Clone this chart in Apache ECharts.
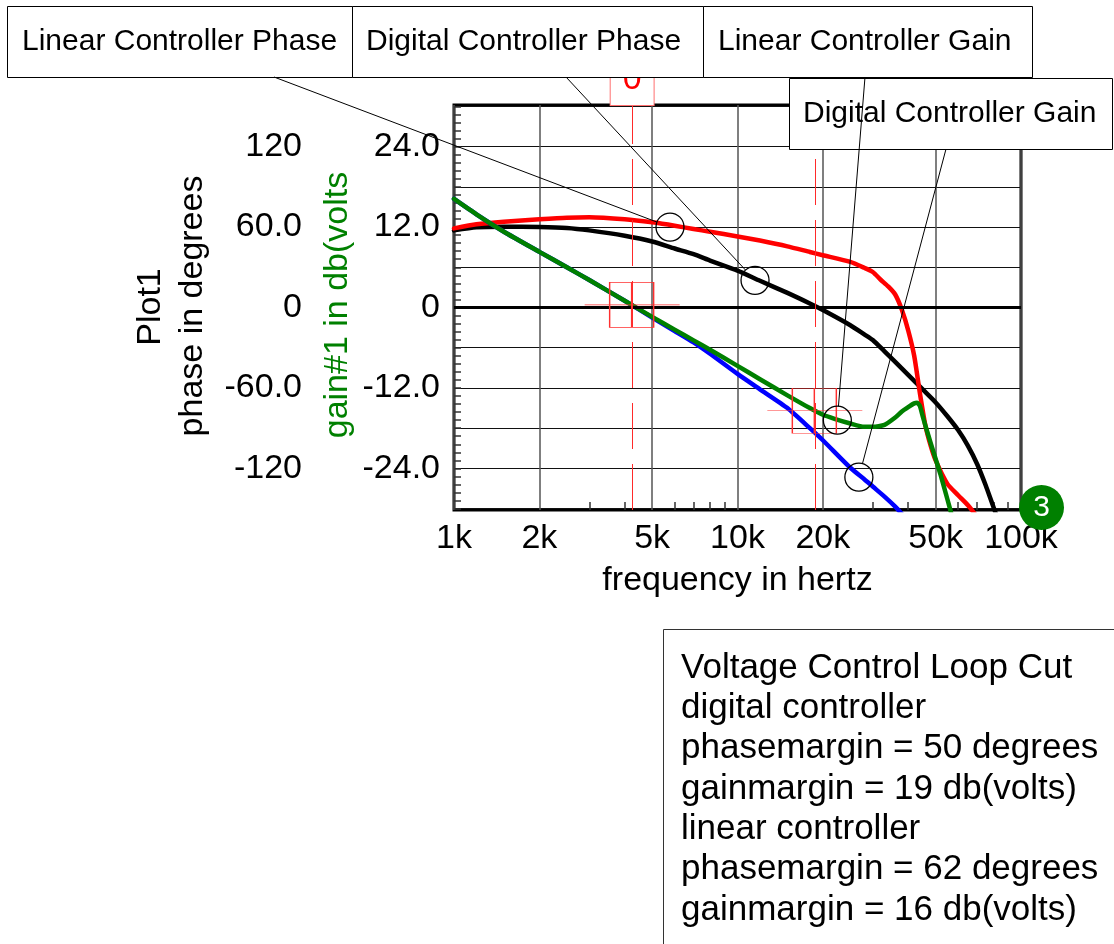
<!DOCTYPE html>
<html><head><meta charset="utf-8">
<script src="https://cdn.jsdelivr.net/npm/echarts@6/dist/echarts.min.js"></script>
<style>html,body{margin:0;padding:0;background:#fff}#c{width:1114px;height:944px}</style>
</head><body><div id="c"></div>
<script>
const FONT = '"Liberation Sans", Arial, Helvetica, sans-serif';

// ---- axis ticks / labels ----
const xTickLabels = [1000, 2000, 5000, 10000, 20000, 50000, 100000];
const xMinorTicks = [3000, 4000, 6000, 7000, 8000, 9000, 30000, 40000, 60000, 70000, 80000, 90000];
const gainTickLabels = [-24, -12, 0, 12, 24];
const gainGridValues = [-30, -24, -18, -12, -6, 0, 6, 12, 18, 24, 30];
const phaseTickLabels = [-120, -60, 0, 60, 120];

// ---- series data (frequency in Hz) ----
const linPhaseFreq = [1000,1200,1500,2000,2500,3000,4000,5000,6000,7000,8000,10000,12000,15000,18000,20000,25000,28000,30000,32000,34000,36000,38000,40000,42000,44000,46000,48000,50000,55000,60000,65000,70000];
const linPhaseDeg  = [59,62,64,65.8,67,67.3,65.8,63.5,61,58.5,56.5,53,49.9,45.6,41.4,39,34,29.6,26.5,20.7,15.7,9.7,-1.7,-17,-36,-64,-88,-103,-114,-131.5,-140,-147.5,-156];

const digPhaseFreq = [1000,1200,1500,2000,2500,3000,4000,5000,6000,7000,8000,10000,12000,15000,18000,20000,25000,28000,30000,33000,36000,40000,45000,50000,55000,60000,65000,70000,75000,80000,85000];
const digPhaseDeg  = [57.5,59.8,60.2,60,59.3,57.5,53.5,49.2,44,39.8,35,27.5,19.9,10.9,3,-1.9,-13.2,-20,-24.2,-32.7,-40.6,-50.3,-61.1,-70.8,-81.1,-91.4,-103.2,-116.7,-132.4,-149,-164];

const linGainFreq = [1000,1200,1500,2000,2500,3000,4000,5000,6000,7000,8000,10000,12000,15000,18000,20000,22000,25000,28000,30000,33000,36000,38000,40000,42000,43000,44000,45000,46000,48000,50000,52000,55000,57000];
const linGainDb   = [16.2,13.9,11.3,8.3,6.0,4.1,1.0,-1.4,-3.3,-4.9,-6.3,-8.7,-10.7,-13.1,-15.0,-16.0,-16.6,-17.3,-17.8,-17.8,-17.5,-16.4,-15.5,-14.85,-14.3,-14.2,-14.7,-16.2,-17.6,-20.2,-22.6,-24.9,-28.6,-31.0];

const digGainFreq = [1000,1200,1500,2000,2500,3000,4000,5000,6000,7000,8000,10000,12000,15000,18000,20000,25000,28000,30000,33000,36000,38000];
const digGainDb   = [16.2,13.9,11.3,8.3,6.0,4.1,1.0,-1.5,-3.5,-5.2,-6.9,-9.9,-12.2,-15.0,-18.0,-19.8,-23.9,-25.6,-26.7,-28.2,-29.7,-30.8];

// ---- cursors and callouts ----
const cursorFreq = [4250, 18740];
const cursorGainDb = [0.4, -15.4];
const cursorLabels = ['0', '0'];
const calloutNames = ['Linear Controller Phase', 'Digital Controller Phase', 'Linear Controller Gain', 'Digital Controller Gain'];
const calloutFreq = [5780, 11530, 22500, 26800];
const calloutValue = [60, 20.3, -16.8, -25.3];
const notes = ['Voltage Control Loop Cut', 'digital controller', 'phasemargin = 50 degrees', 'gainmargin = 19 db(volts)', 'linear controller', 'phasemargin = 62 degrees', 'gainmargin = 16 db(volts)'];

const gainMinor = [];
for (let k = -25; k <= 25; k++) gainMinor.push(+(k * 1.2).toFixed(1));

function pairs(fs, vs) { return fs.map((f, i) => [f, vs[i]]); }
const circleStyle = { color: 'none', borderColor: '#000', borderWidth: 1.3 };
function circleMark(i) {
  return { silent: true, animation: false, data: [{ coord: [calloutFreq[i], calloutValue[i]], symbol: 'circle', symbolSize: 28, itemStyle: circleStyle, label: { show: false } }] };
}
const crossPath = 'path://M25,0H69V45H25Z M0,22.5H95 M47,0V45';
function curve(name, data, yIdx, color, mark) {
  return { type: 'line', name, data, xAxisIndex: 0, yAxisIndex: yIdx, showSymbol: false, symbol: 'none',
    smooth: 0.2, clip: true, silent: true, z: 3,
    lineStyle: { color, width: 4.5, cap: 'round', join: 'round' }, itemStyle: { color }, markPoint: mark };
}

const chart = echarts.init(document.getElementById('c'), null, { renderer: 'canvas' });
const option = {
  animation: false,
  textStyle: { fontFamily: FONT },
  grid: { left: 454, top: 105, width: 567, height: 405, show: true, borderColor: '#000', borderWidth: 3,
          backgroundColor: '#fff', containLabel: false, outerBoundsMode: 'none' },
  xAxis: [
    { type: 'log', logBase: 10, min: 1000, max: 100000, position: 'bottom',
      name: 'frequency in hertz', nameLocation: 'middle', nameGap: 54,
      nameTextStyle: { fontSize: 34, color: '#000', fontFamily: FONT },
      axisLine: { show: false, onZero: false },
      axisTick: { show: false, customValues: xTickLabels },
      axisLabel: { customValues: xTickLabels, formatter: v => Math.round(v / 1000) + 'k', fontSize: 34, color: '#000', margin: 12, fontFamily: FONT },
      splitLine: { show: true, lineStyle: { color: '#555', width: 1.5 } } },
    { type: 'log', logBase: 10, min: 1000, max: 100000, position: 'bottom',
      axisLine: { show: false, onZero: false },
      axisTick: { show: true, inside: true, length: 8, customValues: xMinorTicks, lineStyle: { color: '#333', width: 1.5 } },
      axisLabel: { show: false }, splitLine: { show: false } }
  ],
  yAxis: [
    { type: 'value', min: -30.2, max: 30.2, position: 'left', offset: 0,
      axisLine: { show: false, onZero: false },
      axisTick: { show: false, customValues: gainGridValues },
      axisLabel: { customValues: gainTickLabels, formatter: v => (Math.abs(v) < 1e-9 ? '0' : v.toFixed(1)), fontSize: 34, color: '#000', margin: 14, fontFamily: FONT },
      splitLine: { show: true, lineStyle: { color: '#111', width: 1 } } },
    { type: 'value', min: -151, max: 151, position: 'left', offset: 138,
      axisLine: { show: false, onZero: false }, axisTick: { show: false, customValues: phaseTickLabels },
      axisLabel: { customValues: phaseTickLabels, formatter: v => (Math.abs(v) < 1e-9 ? '0' : (Math.abs(v) < 100 ? v.toFixed(1) : String(Math.round(v)))), fontSize: 34, color: '#000', margin: 14, fontFamily: FONT },
      splitLine: { show: false } },
    { type: 'value', min: -30.2, max: 30.2, position: 'left', offset: 0,
      axisLine: { show: false, onZero: false },
      axisTick: { show: true, inside: true, length: 7, customValues: gainMinor, lineStyle: { color: '#333', width: 1.5 } },
      axisLabel: { show: false }, splitLine: { show: false } }
  ],
  series: [
    { type: 'line', name: 'cursors', data: [], xAxisIndex: 0, yAxisIndex: 0, z: 1, silent: true,
      markLine: { silent: true, animation: false, symbol: ['none', 'none'],
        lineStyle: { color: '#ff2a2a', width: 1, type: [46, 15] },
        label: { show: true, position: 'end', distance: 0, color: '#ff0000', fontSize: 34, fontFamily: FONT,
                 padding: [2, 12, 8, 12], borderColor: '#ff7070', borderWidth: 1, backgroundColor: '#fff' },
        data: [
          { yAxis: 0, lineStyle: { color: '#000', width: 3, type: 'solid' }, label: { show: false } },
          { xAxis: cursorFreq[0], label: { formatter: cursorLabels[0] } },
          { xAxis: cursorFreq[1], label: { formatter: cursorLabels[1] } }
        ] },
      markPoint: { silent: true, animation: false,
        data: cursorFreq.map((f, i) => ({ coord: [f, cursorGainDb[i]], symbol: crossPath, symbolSize: [95, 45],
          itemStyle: { color: 'none', borderColor: '#ff3030', borderWidth: 1 }, label: { show: false } })) } },
    curve('Digital Controller Phase', pairs(digPhaseFreq, digPhaseDeg), 1, '#000000', circleMark(1)),
    curve('Linear Controller Phase', pairs(linPhaseFreq, linPhaseDeg), 1, '#ff0000', circleMark(0)),
    curve('Digital Controller Gain', pairs(digGainFreq, digGainDb), 0, '#0000ff', circleMark(3)),
    curve('Linear Controller Gain', pairs(linGainFreq, linGainDb), 0, '#008000', circleMark(2))
  ]
};
chart.setOption(option);

// ---- annotations (boxes, leader lines, titles) ----
const boxRects = [[7, 6, 345, 71], [352, 6, 351, 71], [703, 6, 329, 71], [789, 78, 323, 71]];
const boxTextX = [22, 366, 718, 803];
const anchors = [[274, 77], [566, 77], [865, 77], [946, 149]];
const calloutSeries = [2, 1, 4, 3];
const g = [];
boxRects.forEach((r, i) => {
  g.push({ type: 'rect', id: 'box' + i, z: 100, shape: { x: r[0] + 0.5, y: r[1] + 0.5, width: r[2], height: r[3] },
           style: { fill: '#fff', stroke: '#000', lineWidth: 1 } });
  g.push({ type: 'text', id: 'boxt' + i, z: 101, x: boxTextX[i], y: r[1] + r[3] / 2,
           style: { text: calloutNames[i], fontSize: 30, fontFamily: FONT, fill: '#000', align: 'left', verticalAlign: 'middle' } });
});
anchors.forEach((a, i) => {
  const c = chart.convertToPixel({ seriesIndex: calloutSeries[i] }, [calloutFreq[i], calloutValue[i]]);
  const dx = c[0] - a[0], dy = c[1] - a[1];
  const len = Math.sqrt(dx * dx + dy * dy);
  g.push({ type: 'line', id: 'lead' + i, z: 110, shape: { x1: a[0], y1: a[1], x2: c[0] - dx / len * 14, y2: c[1] - dy / len * 14 },
           style: { stroke: '#000', lineWidth: 1 } });
});
g.push({ type: 'text', id: 't1', z: 50, x: 151, y: 307, rotation: Math.PI / 2,
         style: { text: 'Plot1', fontSize: 34, fontFamily: FONT, fill: '#000', align: 'center', verticalAlign: 'middle' } });
g.push({ type: 'text', id: 't2', z: 50, x: 193, y: 306, rotation: Math.PI / 2,
         style: { text: 'phase in degrees', fontSize: 34, fontFamily: FONT, fill: '#000', align: 'center', verticalAlign: 'middle' } });
g.push({ type: 'text', id: 't3', z: 50, x: 338, y: 305, rotation: Math.PI / 2,
         style: { text: 'gain#1 in db(volts', fontSize: 34, fontFamily: FONT, fill: '#008000', align: 'center', verticalAlign: 'middle' } });
g.push({ type: 'circle', id: 'badge', z: 100, shape: { cx: 1041.5, cy: 507.5, r: 22.5 }, style: { fill: '#008000' } });
g.push({ type: 'text', id: 'badget', z: 101, x: 1041.5, y: 508, style: { text: '3', fontSize: 30, fontFamily: FONT, fill: '#fff', align: 'center', verticalAlign: 'middle' } });
g.push({ type: 'rect', id: 'notebox', z: 100, shape: { x: 663.5, y: 629.5, width: 480, height: 340 }, style: { fill: '#fff', stroke: '#333', lineWidth: 1 } });
g.push({ type: 'text', id: 'notet', z: 101, x: 681, y: 648, style: { text: notes.join('\n'), fontSize: 35, lineHeight: 40.3, fontFamily: FONT, fill: '#000', align: 'left', verticalAlign: 'top' } });
chart.setOption({ graphic: g });
</script>
</body></html>
